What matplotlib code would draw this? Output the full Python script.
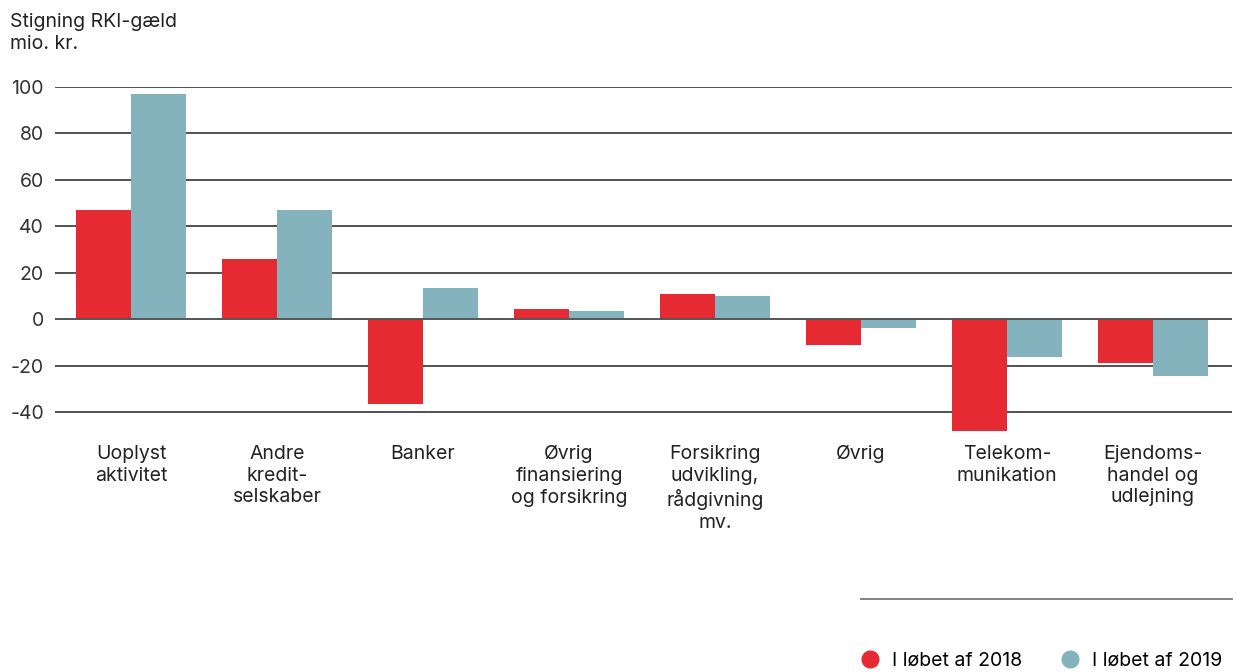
import matplotlib.pyplot as plt
from matplotlib.lines import Line2D
import numpy as np

plt.rcParams['font.family'] = ['Inter', 'DejaVu Sans']

# data
kategorier = ['Uoplyst\naktivitet', 'Andre\nkredit-\nselskaber', 'Banker',
              'Øvrig\nfinansiering\nog forsikring',
              'Forsikring\nudvikling,\nrådgivning\nmv.', 'Øvrig',
              'Telekom-\nmunikation', 'Ejendoms-\nhandel og\nudlejning']
v2018 = [47, 26, -36.5, 4.5, 11, -11, -48, -19]
v2019 = [97, 47, 13.5, 3.7, 10, -3.7, -16, -24.5]
yticks = [-40, -20, 0, 20, 40, 60, 80, 100]
rod = '#E52A32'
bla = '#84B3BE'

fig = plt.figure(figsize=(12.37, 6.72), dpi=100)
ax = fig.add_axes([55/1237, 1-435.5/672, (1232-55)/1237, (435.5-87)/672])

x = np.arange(len(kategorier))
w = 0.377
ax.bar(x - w/2, v2018, width=w, color=rod, zorder=2, clip_on=False)
ax.bar(x + w/2, v2019, width=w, color=bla, zorder=2, clip_on=False)

for t in yticks:
    if t == 0:
        ax.axhline(t, color='#555555', lw=1.4, zorder=3)
    else:
        ax.axhline(t, color='#333333', lw=1.2, zorder=1)

ax.set_xlim(-0.52, 7.54)
ax.set_ylim(-50, 100)
ax.set_yticks(yticks)
ax.set_yticklabels([str(t) for t in yticks], fontsize=14, color='#333333')
ax.tick_params(axis='y', length=0, pad=8)
ax.set_xticks([])
for s in ax.spines.values():
    s.set_visible(False)

# kategori-tekster under søjlerne
for xi, lab in zip(x, kategorier):
    fig.text((131 + xi*146)/1237, 1-445/672, lab, ha='center', va='top',
             fontsize=14, color='#222222', linespacing=1.26)

fig.text(10/1237, 1-13/672, 'Stigning RKI-gæld\nmio. kr.', ha='left', va='top',
         fontsize=14, color='#222222', linespacing=1.26)

fig.add_artist(Line2D([861/1237, 1232/1237], [1-599/672, 1-599/672],
                      transform=fig.transFigure, color='#777777', lw=1.3))

handles = [Line2D([], [], marker='o', ls='', color=rod, markersize=12),
           Line2D([], [], marker='o', ls='', color=bla, markersize=12)]
fig.legend(handles, ['I løbet af 2018', 'I løbet af 2019'], ncol=2,
           loc='center right', bbox_to_anchor=(1222/1237, 1-661/672), frameon=False,
           fontsize=14, handletextpad=0.6, columnspacing=2.0, borderaxespad=0,
           borderpad=0, handlelength=1.0)

plt.savefig('out.png', dpi=100)
